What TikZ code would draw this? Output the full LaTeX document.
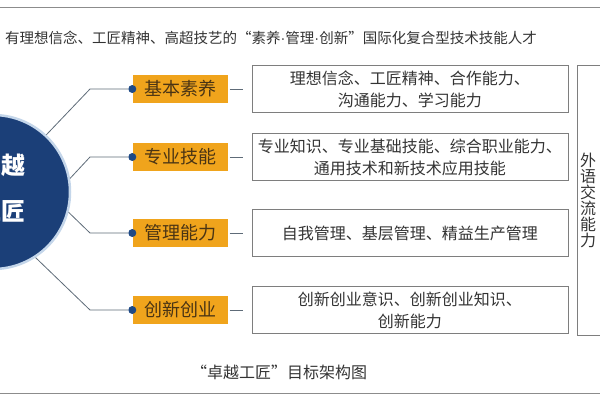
\documentclass[tikz,border=0pt]{standalone}
\usepackage{fontspec}
\setmainfont{Noto Sans CJK SC}
\newfontfamily\latinf{Liberation Sans}
\usetikzlibrary{positioning}
\definecolor{navy}{HTML}{1B3F78}
\definecolor{ringblue}{HTML}{C4D6EA}
\definecolor{gold}{HTML}{F0A41C}
\definecolor{labeltext}{HTML}{4A3414}
\definecolor{dotblue}{HTML}{1F4A86}
\definecolor{linkgray}{HTML}{5E6B78}
\definecolor{boxgray}{HTML}{7E7E7E}
\definecolor{itemtext}{HTML}{333333}
\definecolor{rulegray}{HTML}{8C8C8C}

\begin{document}
\begin{tikzpicture}[x=1pt,y=-1pt,
  label/.style={fill=gold,text=labeltext,minimum width=95pt,minimum height=28pt,inner sep=0pt,font=\fontsize{18}{18}\selectfont},
  item/.style={draw=boxgray,minimum width=316pt,minimum height=47pt,inner sep=0pt,align=center,text=itemtext,font=\fontsize{16}{22}\selectfont},
  dot/.style={circle,fill=dotblue,inner sep=0pt,minimum size=8pt},
  link/.style={draw=linkgray,line width=0.8pt}]

\useasboundingbox (0,0) rectangle (600,400);
\draw[rulegray,line width=1pt] (0,7) -- (600,7);
\draw[rulegray,line width=1pt] (0,393) -- (600,393);

\node[text=itemtext,font=\fontsize{14.5}{14.5}\selectfont] (goal) at (271,38) {有理想信念、工匠精神、高超技艺的“素养{\latinf ·}管理{\latinf ·}创新”国际化复合型技术技能人才};

\node[circle,fill=navy,draw=ringblue,line width=2.5pt,minimum size=154pt] (core) at (-7,192) {};
\node[text=white,font=\fontsize{24}{24}\selectfont\bfseries] (zy) at (2,165) {卓越};
\node[text=white,font=\fontsize{24}{24}\selectfont\bfseries] (gj) at (2,211) {工匠};

\node[label] (basic) at (180,89) {基本素养};
\node[label] (skill) at (180,157) {专业技能};
\node[label] (manage) at (180,233) {管理能力};
\node[label] (innov) at (180,310) {创新创业};

\node[item,right=24pt of basic] (basicitem) {理想信念、工匠精神、合作能力、\\沟通能力、学习能力};
\node[item,right=24pt of skill] (skillitem) {专业知识、专业基础技能、综合职业能力、\\通用技术和新技术应用技能};
\node[item,right=24pt of manage] (manageitem) {自我管理、基层管理、精益生产管理};
\node[item,right=24pt of innov] (innovitem) {创新创业意识、创新创业知识、\\创新能力};

\node[draw=boxgray,anchor=north west,minimum height=270pt,text width=30pt,inner xsep=3pt,align=left,text=itemtext,font=\fontsize{16}{16}\selectfont] (lang) at (577,65) {外\\语\\交\\流\\能\\力};

\node[text=itemtext,font=\fontsize{16}{16}\selectfont] (caption) at (279,372) {“卓越工匠”目标架构图};

%dots
\node[dot] (d1) at (basic.west) {};
\node[dot] (d2) at (skill.west) {};
\node[dot] (d3) at (manage.west) {};
\node[dot] (d4) at (innov.west) {};

\coordinate (b1) at (90,89);
\coordinate (b2) at (90,157);
\coordinate (b3) at (90,233);
\coordinate (b4) at (90,310);

\draw[link] (core.47) -- (b1) -- (d1);
\draw[link] (core.10) -- (b2) -- (d2);
\draw[link] (core.-15) -- (b3) -- (d3);
\draw[link] (core.-57) -- (b4) -- (d4);

\draw[link,shorten <=2pt,shorten >=9pt] (basic) -- (basicitem);
\draw[link,shorten <=2pt,shorten >=9pt] (skill) -- (skillitem);
\draw[link,shorten <=2pt,shorten >=9pt] (manage) -- (manageitem);
\draw[link,shorten <=2pt,shorten >=9pt] (innov) -- (innovitem);
\end{tikzpicture}
\end{document}
